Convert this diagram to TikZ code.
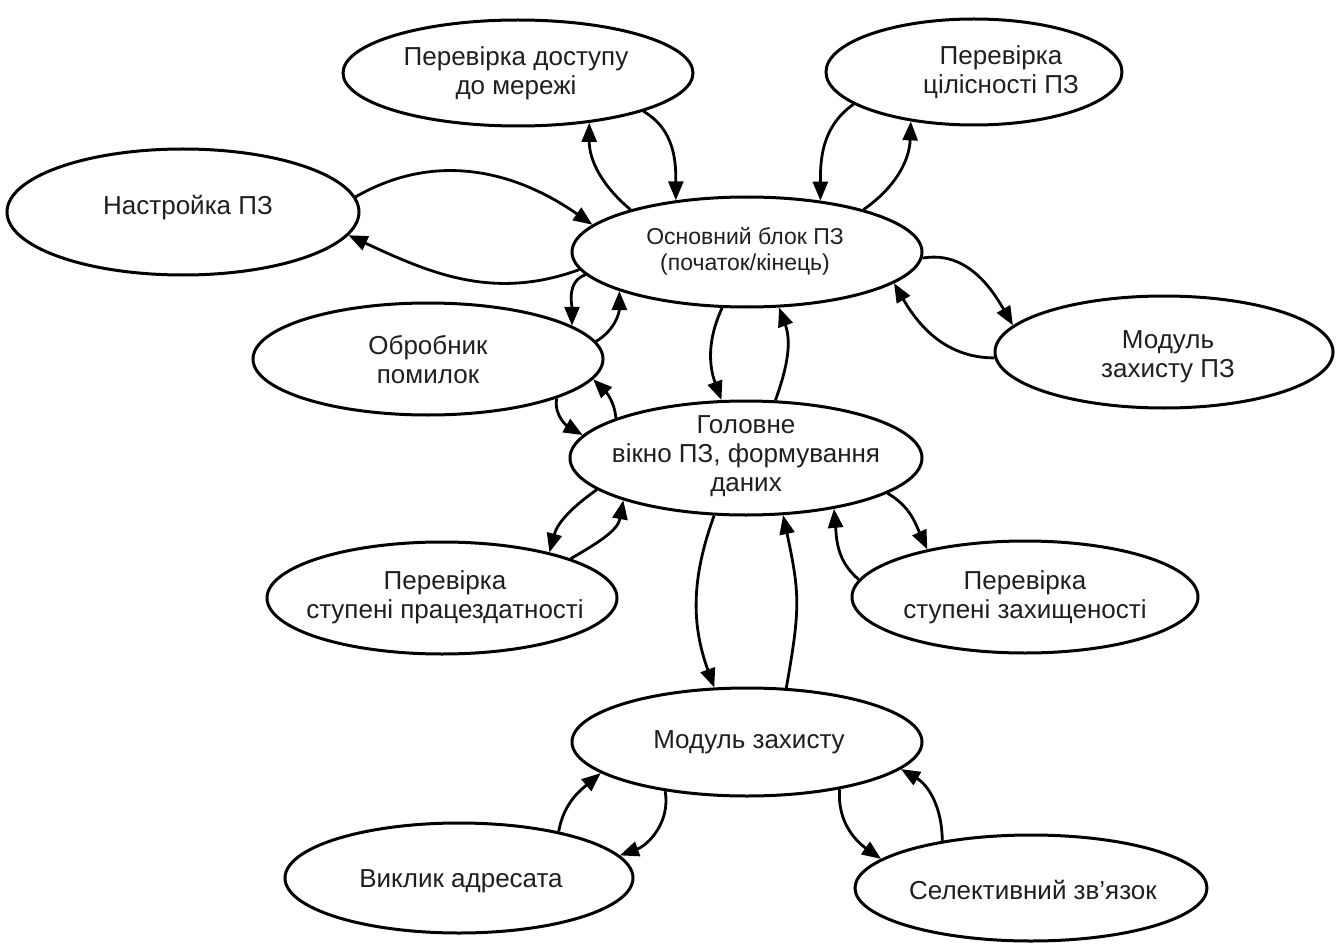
\documentclass[tikz,border=0pt]{standalone}
\usepackage{fontspec}
\setmainfont{Liberation Sans}
\usetikzlibrary{shapes.geometric,arrows.meta}

\tikzset{
  blob/.style={ellipse, draw=black, line width=3pt, inner sep=0pt, fill=white},
  lbl/.style={align=center, font=\fontsize{26}{29}\selectfont, text=black!88, inner sep=0pt},
  link/.style={line width=2.8pt, -{Triangle[length=19pt,width=15pt]}},
}

\begin{document}
\begin{tikzpicture}[x=1pt,y=1pt]
  \useasboundingbox (0,0) rectangle (1336,-944);

  % ellipses
  \node[blob, minimum width=350pt, minimum height=106pt] (dost)  at (518,-73)  {};
  \node[blob, minimum width=296pt, minimum height=106pt] (cil)   at (974,-72)  {};
  \node[blob, minimum width=352pt, minimum height=126pt] (nastr) at (183,-212) {};
  \node[blob, minimum width=350pt, minimum height=110pt] (osn)   at (747,-252) {};
  \node[blob, minimum width=350pt, minimum height=112pt] (obr)   at (428,-359) {};
  \node[blob, minimum width=338pt, minimum height=112pt] (modpz) at (1164,-352) {};
  \node[blob, minimum width=352pt, minimum height=114pt] (gol)   at (746,-458) {};
  \node[blob, minimum width=350pt, minimum height=112pt] (prac)  at (442,-598) {};
  \node[blob, minimum width=346pt, minimum height=112pt] (zah)   at (1025,-597) {};
  \node[blob, minimum width=350pt, minimum height=108pt] (modz)  at (747,-742) {};
  \node[blob, minimum width=348pt, minimum height=110pt] (vykl)  at (459,-878) {};
  \node[blob, minimum width=352pt, minimum height=106pt] (sel)   at (1031,-888) {};

  % labels
  \node[lbl] (dost-t)  at (516,-73)  {Перевірка доступу\\до мережі};
  \node[lbl] (cil-t)   at (1001,-72) {Перевірка\\цілісності ПЗ};
  \node[lbl] (nastr-t) at (188,-208) {Настройка ПЗ};
  \node[lbl, font=\fontsize{23}{26}\selectfont] (osn-t) at (745,-251) {Основний блок ПЗ\\(початок/кінець)};
  \node[lbl] (obr-t)   at (428,-360) {Обробник\\помилок};
  \node[lbl] (modpz-t) at (1168,-357) {Модуль\\захисту ПЗ};
  \node[lbl] (gol-t)   at (746,-456) {Головне\\вікно ПЗ, формування\\даних};
  \node[lbl] (prac-t)  at (445,-597) {Перевірка\\ступені працездатності};
  \node[lbl] (zah-t)   at (1025,-597) {Перевірка\\ступені захищеності};
  \node[lbl] (modz-t)  at (749,-742) {Модуль захисту};
  \node[lbl] (vykl-t)  at (461,-881) {Виклик адресата};
  \node[lbl] (sel-t)   at (1033,-890) {Селективний зв’язок};

  % connectors
  \draw[link] (nastr.5) to[out=30,in=145] (osn.170);
  \draw[link] (osn.186) to[out=200,in=-25] (nastr.-8);
  \draw[link] (osn.160) to[out=140,in=-90] (dost.-35);
  \draw[link] (dost.-17) to[out=-30,in=90] (osn.144);
  \draw[link] (cil.195) to[out=215,in=90] (osn.35);
  \draw[link] (osn.20) to[out=35,in=-92] (cil.218);
  \draw[link] (osn.-2) to[out=10,in=120] (modpz.170);
  \draw[link] (modpz.182) to[out=180,in=-60] (osn.-12);
  \draw[link] (osn.188) to[out=200,in=90] (obr.13);
  \draw[link] (obr.6) to[out=30,in=-90] (osn.197);
  \draw[link] (osn.-114) to[out=-115,in=110] (gol.113);
  \draw[link] (gol.63) to[out=70,in=-70] (osn.-60);
  \draw[link] (obr.-17) to[out=-100,in=150] (gol.172);
  \draw[link] (gol.163) to[out=95,in=-45] (obr.-7);
  \draw[link] (gol.192) to[out=215,in=75] (prac.23);
  \draw[link] (prac.17) to[out=30,in=-100] (gol.199);
  \draw[link] (gol.-14) to[out=-30,in=115] (zah.154);
  \draw[link] (zah.174) to[out=140,in=-85] (gol.-30);
  \draw[link] (gol.-119) to[out=-110,in=110] (modz.121);
  \draw[link] (modz.54) to[out=80,in=-78,looseness=1.2] (gol.-57);
  \draw[link] (vykl.25) to[out=80,in=-140] (modz.192);
  \draw[link] (modz.211) to[out=-80,in=20] (vykl.8);
  \draw[link] (modz.-27) to[out=-95,in=145] (sel.169);
  \draw[link] (sel.152) to[out=90,in=-30] (modz.-10);
\end{tikzpicture}
\end{document}
